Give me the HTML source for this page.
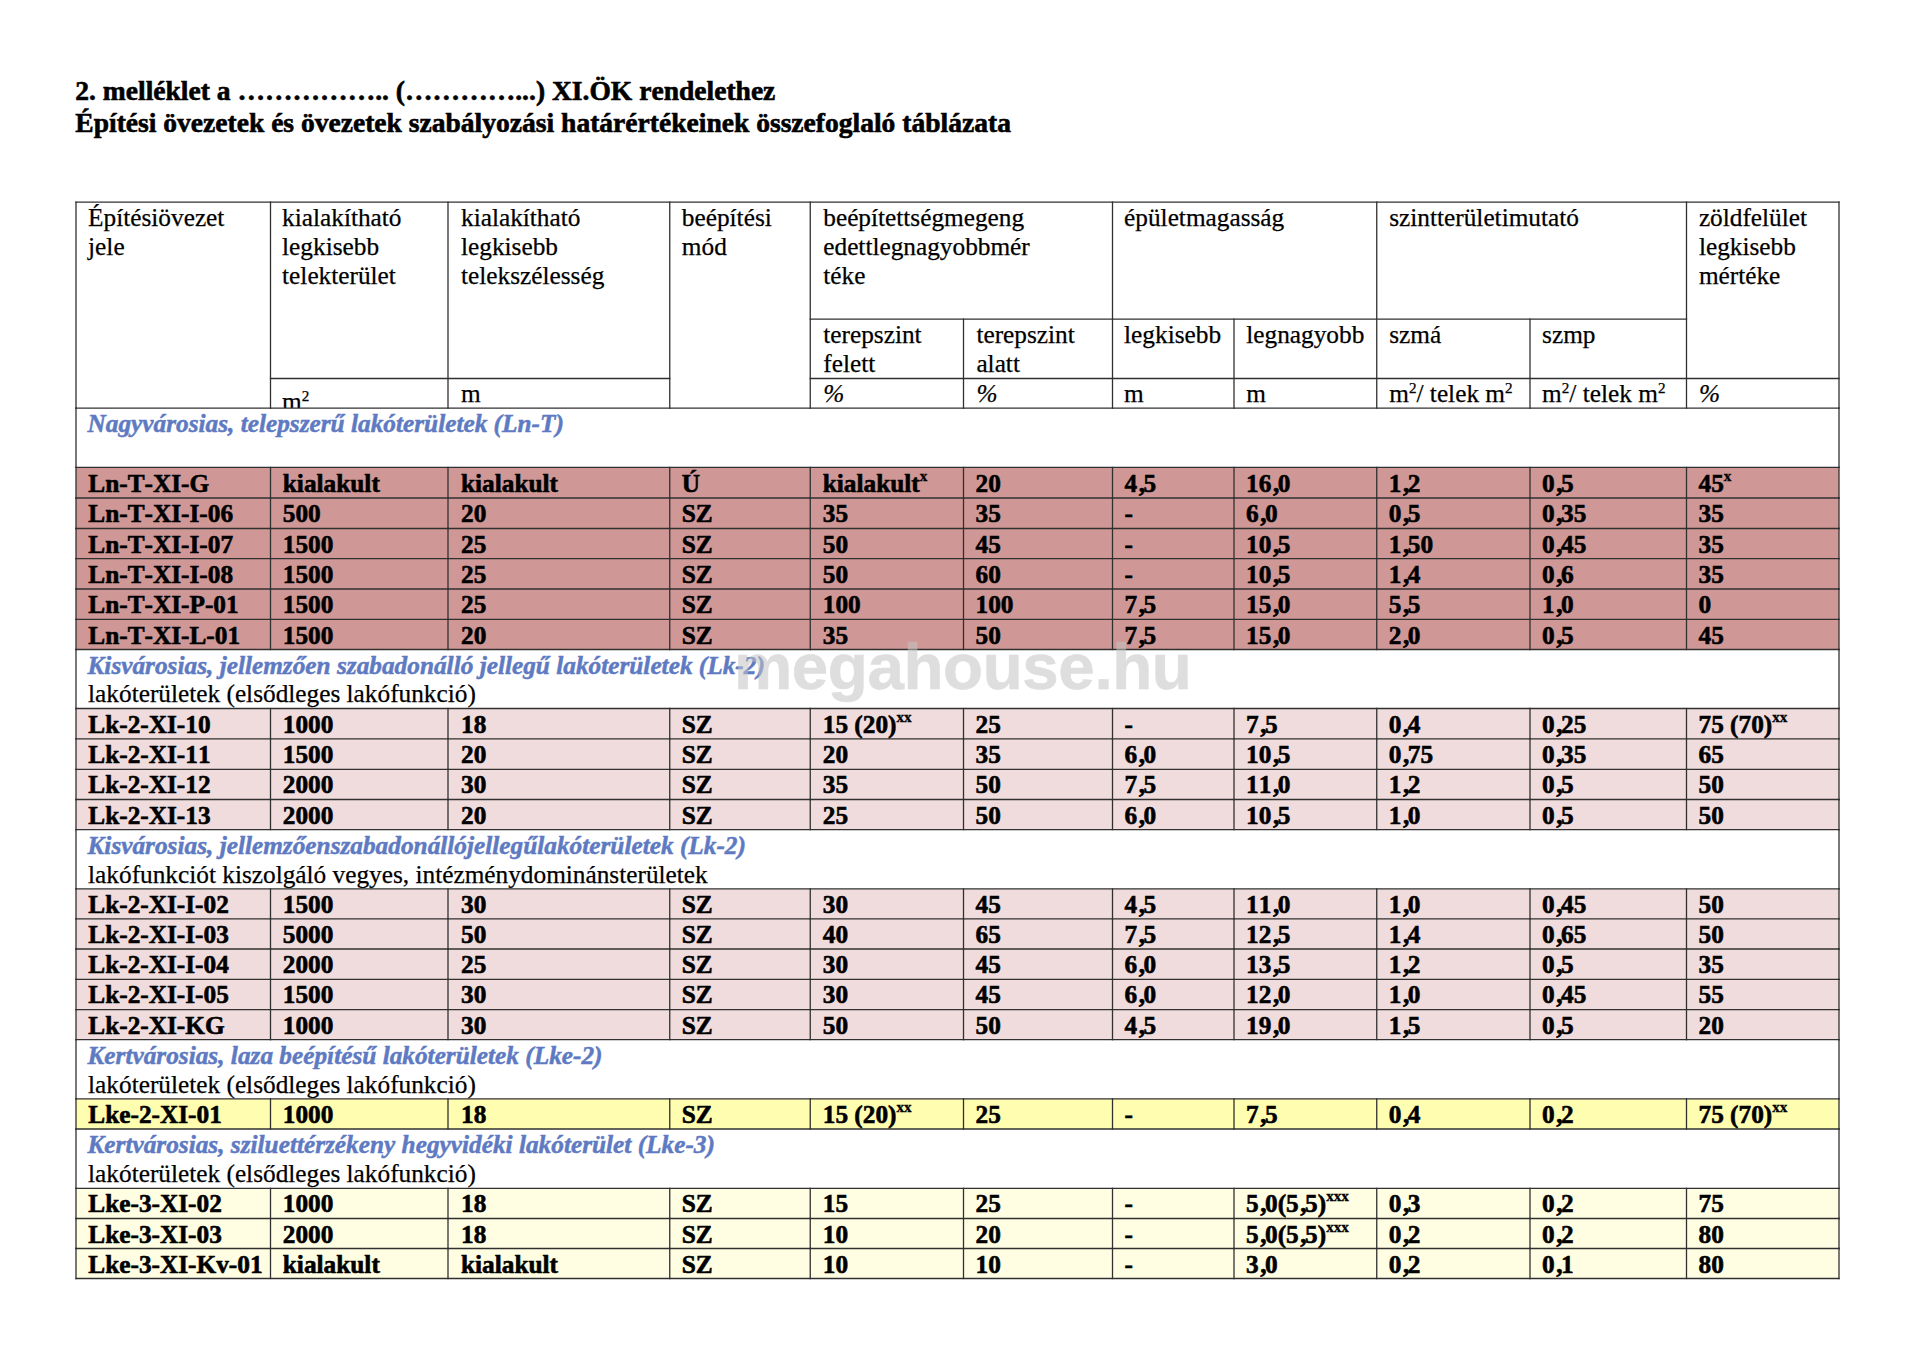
<!DOCTYPE html>
<html lang="hu"><head><meta charset="utf-8"><title>2. melléklet</title>
<style>
html,body{margin:0;padding:0;background:#fff;}
body{width:1920px;height:1349px;position:relative;overflow:hidden;font-family:"Liberation Serif","DejaVu Serif",serif;color:#000;font-kerning:none;font-variant-ligatures:none;}
.t{position:absolute;white-space:nowrap;font-size:25.3px;line-height:30px;height:30px;}
.t{-webkit-text-stroke:0.25px #000;}
.b{font-weight:bold;-webkit-text-stroke:0.6px #000;}
.it{font-style:italic;}
.sec{font-weight:bold;font-style:italic;color:#5e7ac2;-webkit-text-stroke:0.5px #5e7ac2;}
.t sup{font-size:0.6em;line-height:0;vertical-align:baseline;position:relative;top:-0.58em;}
.b sup{font-size:0.6em;top:-0.71em;-webkit-text-stroke:0.35px #000;}
.h{position:absolute;white-space:nowrap;font-weight:bold;font-size:27.55px;line-height:32px;-webkit-text-stroke:0.6px #000;left:75.3px;}
.r{position:absolute;}
svg{position:absolute;left:0;top:0;}
.wm{position:absolute;left:734px;top:626.9px;font-family:"Liberation Sans","DejaVu Sans",sans-serif;font-weight:bold;font-size:65.5px;line-height:80px;color:rgb(196,196,196);-webkit-text-stroke:0.6px rgb(196,196,196);opacity:0.55;white-space:nowrap;letter-spacing:-0.4px;}
.clip{overflow:hidden;}
.c{font-style:normal;position:relative;left:1.6px;}
</style></head><body>
<div class="h" style="top:75.00px">2. melléklet a …………….. (…………...) XI.ÖK rendelethez</div>
<div class="h" style="top:107.00px">Építési övezetek és övezetek szabályozási határértékeinek összefoglaló táblázata</div>
<div class="r" style="left:76.00px;top:467.40px;width:1763.00px;height:30.60px;background:#cf9896"></div>
<div class="r" style="left:76.00px;top:498.00px;width:1763.00px;height:30.50px;background:#cf9896"></div>
<div class="r" style="left:76.00px;top:528.50px;width:1763.00px;height:30.10px;background:#cf9896"></div>
<div class="r" style="left:76.00px;top:558.60px;width:1763.00px;height:30.40px;background:#cf9896"></div>
<div class="r" style="left:76.00px;top:589.00px;width:1763.00px;height:30.40px;background:#cf9896"></div>
<div class="r" style="left:76.00px;top:619.40px;width:1763.00px;height:30.10px;background:#cf9896"></div>
<div class="r" style="left:76.00px;top:708.50px;width:1763.00px;height:30.40px;background:#f0dcdc"></div>
<div class="r" style="left:76.00px;top:738.90px;width:1763.00px;height:30.40px;background:#f0dcdc"></div>
<div class="r" style="left:76.00px;top:769.30px;width:1763.00px;height:30.20px;background:#f0dcdc"></div>
<div class="r" style="left:76.00px;top:799.50px;width:1763.00px;height:30.10px;background:#f0dcdc"></div>
<div class="r" style="left:76.00px;top:888.90px;width:1763.00px;height:30.00px;background:#f0dcdc"></div>
<div class="r" style="left:76.00px;top:918.90px;width:1763.00px;height:30.10px;background:#f0dcdc"></div>
<div class="r" style="left:76.00px;top:949.00px;width:1763.00px;height:30.30px;background:#f0dcdc"></div>
<div class="r" style="left:76.00px;top:979.30px;width:1763.00px;height:30.30px;background:#f0dcdc"></div>
<div class="r" style="left:76.00px;top:1009.60px;width:1763.00px;height:30.10px;background:#f0dcdc"></div>
<div class="r" style="left:76.00px;top:1098.80px;width:1763.00px;height:30.20px;background:#fffdb0"></div>
<div class="r" style="left:76.00px;top:1188.30px;width:1763.00px;height:30.20px;background:#fffee2"></div>
<div class="r" style="left:76.00px;top:1218.50px;width:1763.00px;height:30.00px;background:#fffee2"></div>
<div class="r" style="left:76.00px;top:1248.50px;width:1763.00px;height:30.00px;background:#fffee2"></div>
<div class="t " style="left:88.10px;top:202px">Építésiövezet</div>
<div class="t " style="left:88.10px;top:231px">jele</div>
<div class="t " style="left:282.10px;top:202px">kialakítható</div>
<div class="t " style="left:282.10px;top:231px">legkisebb</div>
<div class="t " style="left:282.10px;top:260px">telekterület</div>
<div class="t " style="left:461.00px;top:202px">kialakítható</div>
<div class="t " style="left:461.00px;top:231px">legkisebb</div>
<div class="t " style="left:461.00px;top:260px">telekszélesség</div>
<div class="t " style="left:681.85px;top:202px">beépítési</div>
<div class="t " style="left:681.85px;top:231px">mód</div>
<div class="t " style="left:823.25px;top:202px">beépítettségmegeng</div>
<div class="t " style="left:823.25px;top:231px">edettlegnagyobbmér</div>
<div class="t " style="left:823.25px;top:260px">téke</div>
<div class="t " style="left:1124.10px;top:202px">épületmagasság</div>
<div class="t " style="left:1389.25px;top:202px">szintterületimutató</div>
<div class="t " style="left:1698.90px;top:202px">zöldfelület</div>
<div class="t " style="left:1698.90px;top:231px">legkisebb</div>
<div class="t " style="left:1698.90px;top:260px">mértéke</div>
<div class="t " style="left:823.25px;top:319px">terepszint</div>
<div class="t " style="left:823.25px;top:348px">felett</div>
<div class="t " style="left:976.40px;top:319px">terepszint</div>
<div class="t " style="left:976.40px;top:348px">alatt</div>
<div class="t " style="left:1124.10px;top:319px">legkisebb</div>
<div class="t " style="left:1246.30px;top:319px">legnagyobb</div>
<div class="t " style="left:1389.25px;top:319px">szmá</div>
<div class="t " style="left:1542.10px;top:319px">szmp</div>
<div class="t clip" style="left:282.10px;top:386px;height:22.20px">m<sup>2</sup></div>
<div class="t " style="left:461.00px;top:378px">m</div>
<div class="t it" style="left:823.25px;top:378px">%</div>
<div class="t it" style="left:976.40px;top:378px">%</div>
<div class="t " style="left:1124.10px;top:378px">m</div>
<div class="t " style="left:1246.30px;top:378px">m</div>
<div class="t " style="left:1389.25px;top:378px">m<sup>2</sup>/ telek m<sup>2</sup></div>
<div class="t " style="left:1542.10px;top:378px">m<sup>2</sup>/ telek m<sup>2</sup></div>
<div class="t it" style="left:1698.90px;top:378px">%</div>
<div class="t sec" style="left:87.50px;top:408px">Nagyvárosias, telepszerű lakóterületek (Ln-T)</div>
<div class="t b" style="left:88.30px;top:468px">Ln-T-XI-G</div>
<div class="t b" style="left:282.80px;top:468px">kialakult</div>
<div class="t b" style="left:461.00px;top:468px">kialakult</div>
<div class="t b" style="left:681.75px;top:468px">Ú</div>
<div class="t b" style="left:822.75px;top:468px">kialakult<sup>x</sup></div>
<div class="t b" style="left:975.50px;top:468px">20</div>
<div class="t b" style="left:1124.50px;top:468px">4<i class="c">,</i>5</div>
<div class="t b" style="left:1246.00px;top:468px">16<i class="c">,</i>0</div>
<div class="t b" style="left:1388.75px;top:468px">1<i class="c">,</i>2</div>
<div class="t b" style="left:1542.00px;top:468px">0<i class="c">,</i>5</div>
<div class="t b" style="left:1698.50px;top:468px">45<sup>x</sup></div>
<div class="t b" style="left:88.30px;top:498px">Ln-T-XI-I-06</div>
<div class="t b" style="left:282.80px;top:498px">500</div>
<div class="t b" style="left:461.00px;top:498px">20</div>
<div class="t b" style="left:681.75px;top:498px">SZ</div>
<div class="t b" style="left:822.75px;top:498px">35</div>
<div class="t b" style="left:975.50px;top:498px">35</div>
<div class="t b" style="left:1124.50px;top:498px">-</div>
<div class="t b" style="left:1246.00px;top:498px">6<i class="c">,</i>0</div>
<div class="t b" style="left:1388.75px;top:498px">0<i class="c">,</i>5</div>
<div class="t b" style="left:1542.00px;top:498px">0<i class="c">,</i>35</div>
<div class="t b" style="left:1698.50px;top:498px">35</div>
<div class="t b" style="left:88.30px;top:529px">Ln-T-XI-I-07</div>
<div class="t b" style="left:282.80px;top:529px">1500</div>
<div class="t b" style="left:461.00px;top:529px">25</div>
<div class="t b" style="left:681.75px;top:529px">SZ</div>
<div class="t b" style="left:822.75px;top:529px">50</div>
<div class="t b" style="left:975.50px;top:529px">45</div>
<div class="t b" style="left:1124.50px;top:529px">-</div>
<div class="t b" style="left:1246.00px;top:529px">10<i class="c">,</i>5</div>
<div class="t b" style="left:1388.75px;top:529px">1<i class="c">,</i>50</div>
<div class="t b" style="left:1542.00px;top:529px">0<i class="c">,</i>45</div>
<div class="t b" style="left:1698.50px;top:529px">35</div>
<div class="t b" style="left:88.30px;top:559px">Ln-T-XI-I-08</div>
<div class="t b" style="left:282.80px;top:559px">1500</div>
<div class="t b" style="left:461.00px;top:559px">25</div>
<div class="t b" style="left:681.75px;top:559px">SZ</div>
<div class="t b" style="left:822.75px;top:559px">50</div>
<div class="t b" style="left:975.50px;top:559px">60</div>
<div class="t b" style="left:1124.50px;top:559px">-</div>
<div class="t b" style="left:1246.00px;top:559px">10<i class="c">,</i>5</div>
<div class="t b" style="left:1388.75px;top:559px">1<i class="c">,</i>4</div>
<div class="t b" style="left:1542.00px;top:559px">0<i class="c">,</i>6</div>
<div class="t b" style="left:1698.50px;top:559px">35</div>
<div class="t b" style="left:88.30px;top:589px">Ln-T-XI-P-01</div>
<div class="t b" style="left:282.80px;top:589px">1500</div>
<div class="t b" style="left:461.00px;top:589px">25</div>
<div class="t b" style="left:681.75px;top:589px">SZ</div>
<div class="t b" style="left:822.75px;top:589px">100</div>
<div class="t b" style="left:975.50px;top:589px">100</div>
<div class="t b" style="left:1124.50px;top:589px">7<i class="c">,</i>5</div>
<div class="t b" style="left:1246.00px;top:589px">15<i class="c">,</i>0</div>
<div class="t b" style="left:1388.75px;top:589px">5<i class="c">,</i>5</div>
<div class="t b" style="left:1542.00px;top:589px">1<i class="c">,</i>0</div>
<div class="t b" style="left:1698.50px;top:589px">0</div>
<div class="t b" style="left:88.30px;top:620px">Ln-T-XI-L-01</div>
<div class="t b" style="left:282.80px;top:620px">1500</div>
<div class="t b" style="left:461.00px;top:620px">20</div>
<div class="t b" style="left:681.75px;top:620px">SZ</div>
<div class="t b" style="left:822.75px;top:620px">35</div>
<div class="t b" style="left:975.50px;top:620px">50</div>
<div class="t b" style="left:1124.50px;top:620px">7<i class="c">,</i>5</div>
<div class="t b" style="left:1246.00px;top:620px">15<i class="c">,</i>0</div>
<div class="t b" style="left:1388.75px;top:620px">2<i class="c">,</i>0</div>
<div class="t b" style="left:1542.00px;top:620px">0<i class="c">,</i>5</div>
<div class="t b" style="left:1698.50px;top:620px">45</div>
<div class="t sec" style="left:87.50px;top:650px">Kisvárosias, jellemzően szabadonálló jellegű lakóterületek (Lk-2)</div>
<div class="t " style="left:88.10px;top:678px">lakóterületek (elsődleges lakófunkció)</div>
<div class="t b" style="left:88.30px;top:709px">Lk-2-XI-10</div>
<div class="t b" style="left:282.80px;top:709px">1000</div>
<div class="t b" style="left:461.00px;top:709px">18</div>
<div class="t b" style="left:681.75px;top:709px">SZ</div>
<div class="t b" style="left:822.75px;top:709px">15 (20)<sup>xx</sup></div>
<div class="t b" style="left:975.50px;top:709px">25</div>
<div class="t b" style="left:1124.50px;top:709px">-</div>
<div class="t b" style="left:1246.00px;top:709px">7<i class="c">,</i>5</div>
<div class="t b" style="left:1388.75px;top:709px">0<i class="c">,</i>4</div>
<div class="t b" style="left:1542.00px;top:709px">0<i class="c">,</i>25</div>
<div class="t b" style="left:1698.50px;top:709px">75 (70)<sup>xx</sup></div>
<div class="t b" style="left:88.30px;top:739px">Lk-2-XI-11</div>
<div class="t b" style="left:282.80px;top:739px">1500</div>
<div class="t b" style="left:461.00px;top:739px">20</div>
<div class="t b" style="left:681.75px;top:739px">SZ</div>
<div class="t b" style="left:822.75px;top:739px">20</div>
<div class="t b" style="left:975.50px;top:739px">35</div>
<div class="t b" style="left:1124.50px;top:739px">6<i class="c">,</i>0</div>
<div class="t b" style="left:1246.00px;top:739px">10<i class="c">,</i>5</div>
<div class="t b" style="left:1388.75px;top:739px">0<i class="c">,</i>75</div>
<div class="t b" style="left:1542.00px;top:739px">0<i class="c">,</i>35</div>
<div class="t b" style="left:1698.50px;top:739px">65</div>
<div class="t b" style="left:88.30px;top:769px">Lk-2-XI-12</div>
<div class="t b" style="left:282.80px;top:769px">2000</div>
<div class="t b" style="left:461.00px;top:769px">30</div>
<div class="t b" style="left:681.75px;top:769px">SZ</div>
<div class="t b" style="left:822.75px;top:769px">35</div>
<div class="t b" style="left:975.50px;top:769px">50</div>
<div class="t b" style="left:1124.50px;top:769px">7<i class="c">,</i>5</div>
<div class="t b" style="left:1246.00px;top:769px">11<i class="c">,</i>0</div>
<div class="t b" style="left:1388.75px;top:769px">1<i class="c">,</i>2</div>
<div class="t b" style="left:1542.00px;top:769px">0<i class="c">,</i>5</div>
<div class="t b" style="left:1698.50px;top:769px">50</div>
<div class="t b" style="left:88.30px;top:800px">Lk-2-XI-13</div>
<div class="t b" style="left:282.80px;top:800px">2000</div>
<div class="t b" style="left:461.00px;top:800px">20</div>
<div class="t b" style="left:681.75px;top:800px">SZ</div>
<div class="t b" style="left:822.75px;top:800px">25</div>
<div class="t b" style="left:975.50px;top:800px">50</div>
<div class="t b" style="left:1124.50px;top:800px">6<i class="c">,</i>0</div>
<div class="t b" style="left:1246.00px;top:800px">10<i class="c">,</i>5</div>
<div class="t b" style="left:1388.75px;top:800px">1<i class="c">,</i>0</div>
<div class="t b" style="left:1542.00px;top:800px">0<i class="c">,</i>5</div>
<div class="t b" style="left:1698.50px;top:800px">50</div>
<div class="t sec" style="left:87.50px;top:830px">Kisvárosias, jellemzőenszabadonállójellegűlakóterületek (Lk-2)</div>
<div class="t " style="left:88.10px;top:859px">lakófunkciót kiszolgáló vegyes, intézménydominánsterületek</div>
<div class="t b" style="left:88.30px;top:889px">Lk-2-XI-I-02</div>
<div class="t b" style="left:282.80px;top:889px">1500</div>
<div class="t b" style="left:461.00px;top:889px">30</div>
<div class="t b" style="left:681.75px;top:889px">SZ</div>
<div class="t b" style="left:822.75px;top:889px">30</div>
<div class="t b" style="left:975.50px;top:889px">45</div>
<div class="t b" style="left:1124.50px;top:889px">4<i class="c">,</i>5</div>
<div class="t b" style="left:1246.00px;top:889px">11<i class="c">,</i>0</div>
<div class="t b" style="left:1388.75px;top:889px">1<i class="c">,</i>0</div>
<div class="t b" style="left:1542.00px;top:889px">0<i class="c">,</i>45</div>
<div class="t b" style="left:1698.50px;top:889px">50</div>
<div class="t b" style="left:88.30px;top:919px">Lk-2-XI-I-03</div>
<div class="t b" style="left:282.80px;top:919px">5000</div>
<div class="t b" style="left:461.00px;top:919px">50</div>
<div class="t b" style="left:681.75px;top:919px">SZ</div>
<div class="t b" style="left:822.75px;top:919px">40</div>
<div class="t b" style="left:975.50px;top:919px">65</div>
<div class="t b" style="left:1124.50px;top:919px">7<i class="c">,</i>5</div>
<div class="t b" style="left:1246.00px;top:919px">12<i class="c">,</i>5</div>
<div class="t b" style="left:1388.75px;top:919px">1<i class="c">,</i>4</div>
<div class="t b" style="left:1542.00px;top:919px">0<i class="c">,</i>65</div>
<div class="t b" style="left:1698.50px;top:919px">50</div>
<div class="t b" style="left:88.30px;top:949px">Lk-2-XI-I-04</div>
<div class="t b" style="left:282.80px;top:949px">2000</div>
<div class="t b" style="left:461.00px;top:949px">25</div>
<div class="t b" style="left:681.75px;top:949px">SZ</div>
<div class="t b" style="left:822.75px;top:949px">30</div>
<div class="t b" style="left:975.50px;top:949px">45</div>
<div class="t b" style="left:1124.50px;top:949px">6<i class="c">,</i>0</div>
<div class="t b" style="left:1246.00px;top:949px">13<i class="c">,</i>5</div>
<div class="t b" style="left:1388.75px;top:949px">1<i class="c">,</i>2</div>
<div class="t b" style="left:1542.00px;top:949px">0<i class="c">,</i>5</div>
<div class="t b" style="left:1698.50px;top:949px">35</div>
<div class="t b" style="left:88.30px;top:979px">Lk-2-XI-I-05</div>
<div class="t b" style="left:282.80px;top:979px">1500</div>
<div class="t b" style="left:461.00px;top:979px">30</div>
<div class="t b" style="left:681.75px;top:979px">SZ</div>
<div class="t b" style="left:822.75px;top:979px">30</div>
<div class="t b" style="left:975.50px;top:979px">45</div>
<div class="t b" style="left:1124.50px;top:979px">6<i class="c">,</i>0</div>
<div class="t b" style="left:1246.00px;top:979px">12<i class="c">,</i>0</div>
<div class="t b" style="left:1388.75px;top:979px">1<i class="c">,</i>0</div>
<div class="t b" style="left:1542.00px;top:979px">0<i class="c">,</i>45</div>
<div class="t b" style="left:1698.50px;top:979px">55</div>
<div class="t b" style="left:88.30px;top:1010px">Lk-2-XI-KG</div>
<div class="t b" style="left:282.80px;top:1010px">1000</div>
<div class="t b" style="left:461.00px;top:1010px">30</div>
<div class="t b" style="left:681.75px;top:1010px">SZ</div>
<div class="t b" style="left:822.75px;top:1010px">50</div>
<div class="t b" style="left:975.50px;top:1010px">50</div>
<div class="t b" style="left:1124.50px;top:1010px">4<i class="c">,</i>5</div>
<div class="t b" style="left:1246.00px;top:1010px">19<i class="c">,</i>0</div>
<div class="t b" style="left:1388.75px;top:1010px">1<i class="c">,</i>5</div>
<div class="t b" style="left:1542.00px;top:1010px">0<i class="c">,</i>5</div>
<div class="t b" style="left:1698.50px;top:1010px">20</div>
<div class="t sec" style="left:87.50px;top:1040px">Kertvárosias, laza beépítésű lakóterületek (Lke-2)</div>
<div class="t " style="left:88.10px;top:1069px">lakóterületek (elsődleges lakófunkció)</div>
<div class="t b" style="left:88.30px;top:1099px">Lke-2-XI-01</div>
<div class="t b" style="left:282.80px;top:1099px">1000</div>
<div class="t b" style="left:461.00px;top:1099px">18</div>
<div class="t b" style="left:681.75px;top:1099px">SZ</div>
<div class="t b" style="left:822.75px;top:1099px">15 (20)<sup>xx</sup></div>
<div class="t b" style="left:975.50px;top:1099px">25</div>
<div class="t b" style="left:1124.50px;top:1099px">-</div>
<div class="t b" style="left:1246.00px;top:1099px">7<i class="c">,</i>5</div>
<div class="t b" style="left:1388.75px;top:1099px">0<i class="c">,</i>4</div>
<div class="t b" style="left:1542.00px;top:1099px">0<i class="c">,</i>2</div>
<div class="t b" style="left:1698.50px;top:1099px">75 (70)<sup>xx</sup></div>
<div class="t sec" style="left:87.50px;top:1129px">Kertvárosias, sziluettérzékeny hegyvidéki lakóterület (Lke-3)</div>
<div class="t " style="left:88.10px;top:1158px">lakóterületek (elsődleges lakófunkció)</div>
<div class="t b" style="left:88.30px;top:1188px">Lke-3-XI-02</div>
<div class="t b" style="left:282.80px;top:1188px">1000</div>
<div class="t b" style="left:461.00px;top:1188px">18</div>
<div class="t b" style="left:681.75px;top:1188px">SZ</div>
<div class="t b" style="left:822.75px;top:1188px">15</div>
<div class="t b" style="left:975.50px;top:1188px">25</div>
<div class="t b" style="left:1124.50px;top:1188px">-</div>
<div class="t b" style="left:1246.00px;top:1188px">5<i class="c">,</i>0(5<i class="c">,</i>5)<sup>xxx</sup></div>
<div class="t b" style="left:1388.75px;top:1188px">0<i class="c">,</i>3</div>
<div class="t b" style="left:1542.00px;top:1188px">0<i class="c">,</i>2</div>
<div class="t b" style="left:1698.50px;top:1188px">75</div>
<div class="t b" style="left:88.30px;top:1219px">Lke-3-XI-03</div>
<div class="t b" style="left:282.80px;top:1219px">2000</div>
<div class="t b" style="left:461.00px;top:1219px">18</div>
<div class="t b" style="left:681.75px;top:1219px">SZ</div>
<div class="t b" style="left:822.75px;top:1219px">10</div>
<div class="t b" style="left:975.50px;top:1219px">20</div>
<div class="t b" style="left:1124.50px;top:1219px">-</div>
<div class="t b" style="left:1246.00px;top:1219px">5<i class="c">,</i>0(5<i class="c">,</i>5)<sup>xxx</sup></div>
<div class="t b" style="left:1388.75px;top:1219px">0<i class="c">,</i>2</div>
<div class="t b" style="left:1542.00px;top:1219px">0<i class="c">,</i>2</div>
<div class="t b" style="left:1698.50px;top:1219px">80</div>
<div class="t b" style="left:88.30px;top:1249px">Lke-3-XI-Kv-01</div>
<div class="t b" style="left:282.80px;top:1249px">kialakult</div>
<div class="t b" style="left:461.00px;top:1249px">kialakult</div>
<div class="t b" style="left:681.75px;top:1249px">SZ</div>
<div class="t b" style="left:822.75px;top:1249px">10</div>
<div class="t b" style="left:975.50px;top:1249px">10</div>
<div class="t b" style="left:1124.50px;top:1249px">-</div>
<div class="t b" style="left:1246.00px;top:1249px">3<i class="c">,</i>0</div>
<div class="t b" style="left:1388.75px;top:1249px">0<i class="c">,</i>2</div>
<div class="t b" style="left:1542.00px;top:1249px">0<i class="c">,</i>1</div>
<div class="t b" style="left:1698.50px;top:1249px">80</div>
<svg width="1920" height="1349" viewBox="0 0 1920 1349"><g stroke="#303030" stroke-width="1.3" stroke-linecap="square" fill="none">
<path d="M76.00 202.10H1839.00"/><path d="M810.25 319.20H1686.50"/><path d="M270.50 378.50H669.75"/><path d="M810.25 378.50H1839.00"/><path d="M76.00 408.20H1839.00"/><path d="M76.00 467.40H1839.00"/><path d="M76.00 498.00H1839.00"/><path d="M76.00 528.50H1839.00"/><path d="M76.00 558.60H1839.00"/><path d="M76.00 589.00H1839.00"/><path d="M76.00 619.40H1839.00"/><path d="M76.00 649.50H1839.00"/><path d="M76.00 708.50H1839.00"/><path d="M76.00 738.90H1839.00"/><path d="M76.00 769.30H1839.00"/><path d="M76.00 799.50H1839.00"/><path d="M76.00 829.60H1839.00"/><path d="M76.00 888.90H1839.00"/><path d="M76.00 918.90H1839.00"/><path d="M76.00 949.00H1839.00"/><path d="M76.00 979.30H1839.00"/><path d="M76.00 1009.60H1839.00"/><path d="M76.00 1039.70H1839.00"/><path d="M76.00 1098.80H1839.00"/><path d="M76.00 1129.00H1839.00"/><path d="M76.00 1188.30H1839.00"/><path d="M76.00 1218.50H1839.00"/><path d="M76.00 1248.50H1839.00"/><path d="M76.00 1278.50H1839.00"/><path d="M76.00 202.10V408.20"/><path d="M270.50 202.10V408.20"/><path d="M448.00 202.10V408.20"/><path d="M669.75 202.10V408.20"/><path d="M810.25 202.10V408.20"/><path d="M1112.50 202.10V408.20"/><path d="M1376.75 202.10V408.20"/><path d="M1686.50 202.10V408.20"/><path d="M1839.00 202.10V408.20"/><path d="M963.50 319.20V408.20"/><path d="M1234.00 319.20V408.20"/><path d="M1530.00 319.20V408.20"/><path d="M76.00 408.20V467.40"/><path d="M1839.00 408.20V467.40"/><path d="M76.00 467.40V498.00"/><path d="M270.50 467.40V498.00"/><path d="M448.00 467.40V498.00"/><path d="M669.75 467.40V498.00"/><path d="M810.25 467.40V498.00"/><path d="M963.50 467.40V498.00"/><path d="M1112.50 467.40V498.00"/><path d="M1234.00 467.40V498.00"/><path d="M1376.75 467.40V498.00"/><path d="M1530.00 467.40V498.00"/><path d="M1686.50 467.40V498.00"/><path d="M1839.00 467.40V498.00"/><path d="M76.00 498.00V528.50"/><path d="M270.50 498.00V528.50"/><path d="M448.00 498.00V528.50"/><path d="M669.75 498.00V528.50"/><path d="M810.25 498.00V528.50"/><path d="M963.50 498.00V528.50"/><path d="M1112.50 498.00V528.50"/><path d="M1234.00 498.00V528.50"/><path d="M1376.75 498.00V528.50"/><path d="M1530.00 498.00V528.50"/><path d="M1686.50 498.00V528.50"/><path d="M1839.00 498.00V528.50"/><path d="M76.00 528.50V558.60"/><path d="M270.50 528.50V558.60"/><path d="M448.00 528.50V558.60"/><path d="M669.75 528.50V558.60"/><path d="M810.25 528.50V558.60"/><path d="M963.50 528.50V558.60"/><path d="M1112.50 528.50V558.60"/><path d="M1234.00 528.50V558.60"/><path d="M1376.75 528.50V558.60"/><path d="M1530.00 528.50V558.60"/><path d="M1686.50 528.50V558.60"/><path d="M1839.00 528.50V558.60"/><path d="M76.00 558.60V589.00"/><path d="M270.50 558.60V589.00"/><path d="M448.00 558.60V589.00"/><path d="M669.75 558.60V589.00"/><path d="M810.25 558.60V589.00"/><path d="M963.50 558.60V589.00"/><path d="M1112.50 558.60V589.00"/><path d="M1234.00 558.60V589.00"/><path d="M1376.75 558.60V589.00"/><path d="M1530.00 558.60V589.00"/><path d="M1686.50 558.60V589.00"/><path d="M1839.00 558.60V589.00"/><path d="M76.00 589.00V619.40"/><path d="M270.50 589.00V619.40"/><path d="M448.00 589.00V619.40"/><path d="M669.75 589.00V619.40"/><path d="M810.25 589.00V619.40"/><path d="M963.50 589.00V619.40"/><path d="M1112.50 589.00V619.40"/><path d="M1234.00 589.00V619.40"/><path d="M1376.75 589.00V619.40"/><path d="M1530.00 589.00V619.40"/><path d="M1686.50 589.00V619.40"/><path d="M1839.00 589.00V619.40"/><path d="M76.00 619.40V649.50"/><path d="M270.50 619.40V649.50"/><path d="M448.00 619.40V649.50"/><path d="M669.75 619.40V649.50"/><path d="M810.25 619.40V649.50"/><path d="M963.50 619.40V649.50"/><path d="M1112.50 619.40V649.50"/><path d="M1234.00 619.40V649.50"/><path d="M1376.75 619.40V649.50"/><path d="M1530.00 619.40V649.50"/><path d="M1686.50 619.40V649.50"/><path d="M1839.00 619.40V649.50"/><path d="M76.00 649.50V708.50"/><path d="M1839.00 649.50V708.50"/><path d="M76.00 708.50V738.90"/><path d="M270.50 708.50V738.90"/><path d="M448.00 708.50V738.90"/><path d="M669.75 708.50V738.90"/><path d="M810.25 708.50V738.90"/><path d="M963.50 708.50V738.90"/><path d="M1112.50 708.50V738.90"/><path d="M1234.00 708.50V738.90"/><path d="M1376.75 708.50V738.90"/><path d="M1530.00 708.50V738.90"/><path d="M1686.50 708.50V738.90"/><path d="M1839.00 708.50V738.90"/><path d="M76.00 738.90V769.30"/><path d="M270.50 738.90V769.30"/><path d="M448.00 738.90V769.30"/><path d="M669.75 738.90V769.30"/><path d="M810.25 738.90V769.30"/><path d="M963.50 738.90V769.30"/><path d="M1112.50 738.90V769.30"/><path d="M1234.00 738.90V769.30"/><path d="M1376.75 738.90V769.30"/><path d="M1530.00 738.90V769.30"/><path d="M1686.50 738.90V769.30"/><path d="M1839.00 738.90V769.30"/><path d="M76.00 769.30V799.50"/><path d="M270.50 769.30V799.50"/><path d="M448.00 769.30V799.50"/><path d="M669.75 769.30V799.50"/><path d="M810.25 769.30V799.50"/><path d="M963.50 769.30V799.50"/><path d="M1112.50 769.30V799.50"/><path d="M1234.00 769.30V799.50"/><path d="M1376.75 769.30V799.50"/><path d="M1530.00 769.30V799.50"/><path d="M1686.50 769.30V799.50"/><path d="M1839.00 769.30V799.50"/><path d="M76.00 799.50V829.60"/><path d="M270.50 799.50V829.60"/><path d="M448.00 799.50V829.60"/><path d="M669.75 799.50V829.60"/><path d="M810.25 799.50V829.60"/><path d="M963.50 799.50V829.60"/><path d="M1112.50 799.50V829.60"/><path d="M1234.00 799.50V829.60"/><path d="M1376.75 799.50V829.60"/><path d="M1530.00 799.50V829.60"/><path d="M1686.50 799.50V829.60"/><path d="M1839.00 799.50V829.60"/><path d="M76.00 829.60V888.90"/><path d="M1839.00 829.60V888.90"/><path d="M76.00 888.90V918.90"/><path d="M270.50 888.90V918.90"/><path d="M448.00 888.90V918.90"/><path d="M669.75 888.90V918.90"/><path d="M810.25 888.90V918.90"/><path d="M963.50 888.90V918.90"/><path d="M1112.50 888.90V918.90"/><path d="M1234.00 888.90V918.90"/><path d="M1376.75 888.90V918.90"/><path d="M1530.00 888.90V918.90"/><path d="M1686.50 888.90V918.90"/><path d="M1839.00 888.90V918.90"/><path d="M76.00 918.90V949.00"/><path d="M270.50 918.90V949.00"/><path d="M448.00 918.90V949.00"/><path d="M669.75 918.90V949.00"/><path d="M810.25 918.90V949.00"/><path d="M963.50 918.90V949.00"/><path d="M1112.50 918.90V949.00"/><path d="M1234.00 918.90V949.00"/><path d="M1376.75 918.90V949.00"/><path d="M1530.00 918.90V949.00"/><path d="M1686.50 918.90V949.00"/><path d="M1839.00 918.90V949.00"/><path d="M76.00 949.00V979.30"/><path d="M270.50 949.00V979.30"/><path d="M448.00 949.00V979.30"/><path d="M669.75 949.00V979.30"/><path d="M810.25 949.00V979.30"/><path d="M963.50 949.00V979.30"/><path d="M1112.50 949.00V979.30"/><path d="M1234.00 949.00V979.30"/><path d="M1376.75 949.00V979.30"/><path d="M1530.00 949.00V979.30"/><path d="M1686.50 949.00V979.30"/><path d="M1839.00 949.00V979.30"/><path d="M76.00 979.30V1009.60"/><path d="M270.50 979.30V1009.60"/><path d="M448.00 979.30V1009.60"/><path d="M669.75 979.30V1009.60"/><path d="M810.25 979.30V1009.60"/><path d="M963.50 979.30V1009.60"/><path d="M1112.50 979.30V1009.60"/><path d="M1234.00 979.30V1009.60"/><path d="M1376.75 979.30V1009.60"/><path d="M1530.00 979.30V1009.60"/><path d="M1686.50 979.30V1009.60"/><path d="M1839.00 979.30V1009.60"/><path d="M76.00 1009.60V1039.70"/><path d="M270.50 1009.60V1039.70"/><path d="M448.00 1009.60V1039.70"/><path d="M669.75 1009.60V1039.70"/><path d="M810.25 1009.60V1039.70"/><path d="M963.50 1009.60V1039.70"/><path d="M1112.50 1009.60V1039.70"/><path d="M1234.00 1009.60V1039.70"/><path d="M1376.75 1009.60V1039.70"/><path d="M1530.00 1009.60V1039.70"/><path d="M1686.50 1009.60V1039.70"/><path d="M1839.00 1009.60V1039.70"/><path d="M76.00 1039.70V1098.80"/><path d="M1839.00 1039.70V1098.80"/><path d="M76.00 1098.80V1129.00"/><path d="M270.50 1098.80V1129.00"/><path d="M448.00 1098.80V1129.00"/><path d="M669.75 1098.80V1129.00"/><path d="M810.25 1098.80V1129.00"/><path d="M963.50 1098.80V1129.00"/><path d="M1112.50 1098.80V1129.00"/><path d="M1234.00 1098.80V1129.00"/><path d="M1376.75 1098.80V1129.00"/><path d="M1530.00 1098.80V1129.00"/><path d="M1686.50 1098.80V1129.00"/><path d="M1839.00 1098.80V1129.00"/><path d="M76.00 1129.00V1188.30"/><path d="M1839.00 1129.00V1188.30"/><path d="M76.00 1188.30V1218.50"/><path d="M270.50 1188.30V1218.50"/><path d="M448.00 1188.30V1218.50"/><path d="M669.75 1188.30V1218.50"/><path d="M810.25 1188.30V1218.50"/><path d="M963.50 1188.30V1218.50"/><path d="M1112.50 1188.30V1218.50"/><path d="M1234.00 1188.30V1218.50"/><path d="M1376.75 1188.30V1218.50"/><path d="M1530.00 1188.30V1218.50"/><path d="M1686.50 1188.30V1218.50"/><path d="M1839.00 1188.30V1218.50"/><path d="M76.00 1218.50V1248.50"/><path d="M270.50 1218.50V1248.50"/><path d="M448.00 1218.50V1248.50"/><path d="M669.75 1218.50V1248.50"/><path d="M810.25 1218.50V1248.50"/><path d="M963.50 1218.50V1248.50"/><path d="M1112.50 1218.50V1248.50"/><path d="M1234.00 1218.50V1248.50"/><path d="M1376.75 1218.50V1248.50"/><path d="M1530.00 1218.50V1248.50"/><path d="M1686.50 1218.50V1248.50"/><path d="M1839.00 1218.50V1248.50"/><path d="M76.00 1248.50V1278.50"/><path d="M270.50 1248.50V1278.50"/><path d="M448.00 1248.50V1278.50"/><path d="M669.75 1248.50V1278.50"/><path d="M810.25 1248.50V1278.50"/><path d="M963.50 1248.50V1278.50"/><path d="M1112.50 1248.50V1278.50"/><path d="M1234.00 1248.50V1278.50"/><path d="M1376.75 1248.50V1278.50"/><path d="M1530.00 1248.50V1278.50"/><path d="M1686.50 1248.50V1278.50"/><path d="M1839.00 1248.50V1278.50"/></g></svg>
<div class="wm">megahouse.hu</div>
</body></html>
